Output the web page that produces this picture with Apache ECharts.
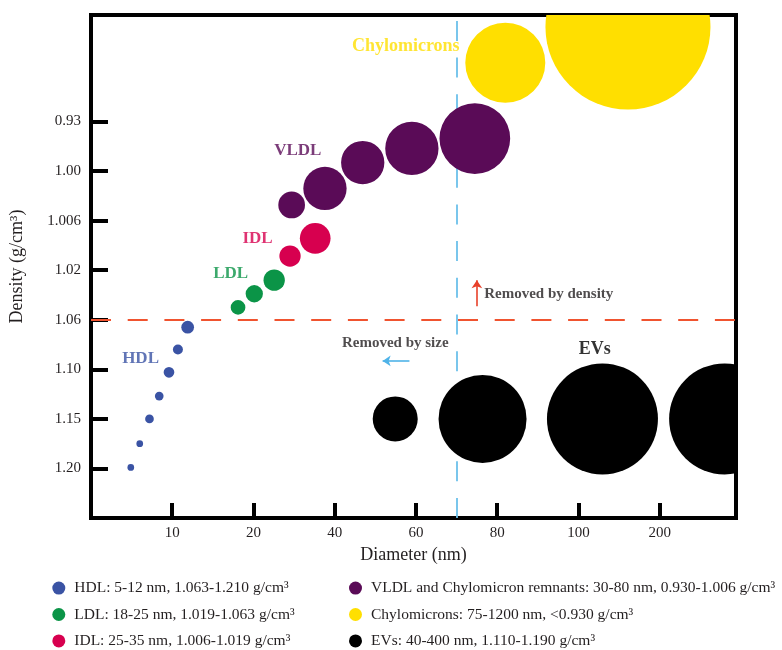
<!DOCTYPE html>
<html><head><meta charset="utf-8">
<script src="https://cdn.jsdelivr.net/npm/echarts@6/dist/echarts.min.js"></script>
<style>html,body{margin:0;padding:0;background:#fff}#c{width:782px;height:650px}</style>
</head><body><div id="c"></div>
<script>
// ---------- data ----------
const xTickValues = [10, 20, 40, 60, 80, 100, 200];
const xTickLabels = ['10', '20', '40', '60', '80', '100', '200'];
const yTickValues = [1.20, 1.15, 1.10, 1.06, 1.02, 1.006, 1.00, 0.93];
const yTickLabels = ['1.20', '1.15', '1.10', '1.06', '1.02', '1.006', '1.00', '0.93'];

const hdlDiameter = [4.9, 6.0, 7.2, 8.4, 9.6, 10.7, 11.9];
const hdlDensity  = [1.199, 1.175, 1.150, 1.127, 1.103, 1.084, 1.066];
const hdlBubble   = [6.7, 6.7, 8.7, 8.7, 10.7, 10, 12.7];

const ldlDiameter = [18.1, 20.2, 25.1];
const ldlDensity  = [1.050, 1.039, 1.028];
const ldlBubble   = [14.7, 17.3, 21.3];

const idlDiameter = [29.0, 35.2];
const idlDensity  = [1.016, 1.011];
const idlBubble   = [21.3, 30.7];

const vldlDiameter = [29.4, 37.6, 46.9, 59.0, 74.5];
const vldlDensity  = [1.0041, 1.0021, 0.988, 0.968, 0.954];
const vldlBubble   = [26.7, 43.3, 43.3, 53.3, 70.7];

const chyloDiameter = [82, 161];
const chyloDensity  = [0.847, 0.7965];
const chyloBubble   = [80, 165];

const evDiameter = [54.9, 76.4, 129.6, 280];
const evDensity  = [1.15, 1.15, 1.15, 1.15];
const evBubble   = [45, 88, 111, 111];

const sizeCutoff = 70;       // nm
const densityCutoff = 1.06;  // g/cm3

const seriesNames = [
  'HDL: 5-12 nm, 1.063-1.210 g/cm³',
  'LDL: 18-25 nm, 1.019-1.063 g/cm³',
  'IDL: 25-35 nm, 1.006-1.019 g/cm³',
  'VLDL and Chylomicron remnants: 30-80 nm, 0.930-1.006 g/cm³',
  'Chylomicrons: 75-1200 nm, <0.930 g/cm³',
  'EVs: 40-400 nm, 1.110-1.190 g/cm³'
];

const groupLabels = ['HDL', 'LDL', 'IDL', 'VLDL', 'Chylomicrons', 'EVs'];
const groupLabelDiameter = [6.1, 17.2, 21.0, 30.9, 57.5, 120];
const groupLabelDensity  = [1.0916, 1.023, 1.0112, 0.9715, 0.8233, 1.0836];

const noteTexts = ['Removed by density', 'Removed by size'];
const noteDiameter = [76.8, 54.9];
const noteDensity  = [1.0392, 1.0787];
const densityArrow = { diameter: [75, 75], density: [1.049, 1.028] };
const sizeArrow    = { diameter: [58.4, 51.8], density: [1.0932, 1.0932] };

// ---------- scales (piecewise axes) ----------
function toPos(v, anchors, pos0) {
  const n = anchors.length, dir = Math.sign(anchors[n - 1] - anchors[0]);
  let i;
  if ((v - anchors[0]) * dir <= 0) i = 0;
  else if ((v - anchors[n - 1]) * dir >= 0) i = n - 2;
  else { i = 0; while ((v - anchors[i + 1]) * dir > 0) i++; }
  return pos0 + i + (v - anchors[i]) / (anchors[i + 1] - anchors[i]);
}
const xAnchors = [0].concat(xTickValues);
const xp = v => toPos(v, xAnchors, 0);
const yp = v => toPos(v, yTickValues, 1);
const xTickPos = xTickValues.map(xp);
const yTickPos = yTickValues.map(yp);

const FONT = 'Liberation Serif';
const colors = ['#3a53a4', '#0b9447', '#d7004f', '#5a0b57', '#ffdf00', '#000000'];

function pts(d, r, b) { return d.map((v, i) => [xp(v), yp(r[i]), b[i]]); }
const groups = [
  pts(hdlDiameter, hdlDensity, hdlBubble),
  pts(ldlDiameter, ldlDensity, ldlBubble),
  pts(idlDiameter, idlDensity, idlBubble),
  pts(vldlDiameter, vldlDensity, vldlBubble),
  pts(chyloDiameter, chyloDensity, chyloBubble),
  pts(evDiameter, evDensity, evBubble)
];

const bubbleSeries = groups.map((data, i) => ({
  name: seriesNames[i], type: 'custom', data: data, z: 3, clip: true,
  encode: { x: 0, y: 1 }, silent: true,
  itemStyle: { color: colors[i] },
  renderItem: (params, api) => {
    const c = api.coord([api.value(0), api.value(1)]);
    return { type: 'circle', shape: { cx: c[0], cy: c[1], r: api.value(2) / 2 },
             style: { fill: colors[i] } };
  }
}));

const labelSizes = [17, 17, 17, 17, 18, 18];
const annotationData = groupLabels.map((t, i) => ({
  value: [xp(groupLabelDiameter[i]), yp(groupLabelDensity[i])],
  label: { show: true, position: 'inside', formatter: t, color: colors[i],
           fontFamily: FONT, fontWeight: 'bold', fontSize: labelSizes[i] }
})).concat(noteTexts.map((t, i) => ({
  value: [xp(noteDiameter[i]), yp(noteDensity[i])],
  label: { show: true, position: 'inside', formatter: t, color: '#231f20',
           align: i === 0 ? 'left' : 'center',
           fontFamily: FONT, fontWeight: 'bold', fontSize: 15 }
})));

const arrowLine = (a, color) => [
  { coord: [xp(a.diameter[0]), yp(a.density[0])], lineStyle: { color: color, width: 1.6, type: 'solid' } },
  { coord: [xp(a.diameter[1]), yp(a.density[1])] }
];

const legendCommon = {
  orient: 'vertical', top: 580.1, padding: 0, height: 120,
  icon: 'circle', itemWidth: 21, itemHeight: 13, itemGap: 10.4, selectedMode: false,
  textStyle: { fontFamily: FONT, fontSize: 15.5, color: '#231f20', lineHeight: 13 }
};

const option = {
  animation: false,
  backgroundColor: '#fff',
  grid: { left: 91, right: 46, top: 15, bottom: 132, show: true,
          borderColor: '#000', borderWidth: 4, backgroundColor: 'transparent' },
  xAxis: {
    type: 'value', min: 0, max: 7.94, interval: 1,
    name: 'Diameter (nm)', nameLocation: 'middle', nameGap: 27,
    nameTextStyle: { fontFamily: FONT, fontSize: 18, color: '#231f20' },
    axisLine: { show: true, lineStyle: { color: '#000', width: 4 } },
    axisTick: { show: true, inside: true, length: 15, customValues: xTickPos,
                lineStyle: { color: '#000', width: 4 } },
    axisLabel: { margin: 8, customValues: xTickPos, fontFamily: FONT, fontSize: 15, color: '#231f20',
                 formatter: v => { const k = xTickPos.findIndex(p => Math.abs(p - v) < 1e-6); return k >= 0 ? xTickLabels[k] : ''; } },
    splitLine: { show: false }
  },
  yAxis: {
    type: 'value', min: 0, max: 10.15, interval: 1,
    name: 'Density (g/cm³)', nameLocation: 'middle', nameGap: 65,
    nameTextStyle: { fontFamily: FONT, fontSize: 18, color: '#231f20' },
    axisLine: { show: true, lineStyle: { color: '#000', width: 4 } },
    axisTick: { show: true, inside: true, length: 17, customValues: yTickPos,
                lineStyle: { color: '#000', width: 4 } },
    axisLabel: { margin: 10, customValues: yTickPos, fontFamily: FONT, fontSize: 15, color: '#231f20',
                 formatter: v => { const k = yTickPos.findIndex(p => Math.abs(p - v) < 1e-6); return k >= 0 ? yTickLabels[k] : ''; } },
    splitLine: { show: false }
  },
  legend: [
    Object.assign({ data: seriesNames.slice(0, 3), left: 52.3 }, legendCommon),
    Object.assign({ data: seriesNames.slice(3), left: 349 }, legendCommon)
  ],
  series: [
    { name: 'cutoffs', type: 'scatter', z: 1, silent: true, symbolSize: 0,
      data: [[xp(sizeCutoff), yp(densityCutoff)]],
      markLine: { silent: true, z: 1, symbol: 'none', label: { show: false },
        data: [
          { yAxis: yp(densityCutoff), lineStyle: { color: '#f0532f', width: 1.8, type: [20, 16.7] } },
          { xAxis: xp(sizeCutoff), lineStyle: { color: '#6cc0ea', width: 1.8, type: [20, 16.7] } }
        ] } }
  ].concat(bubbleSeries).concat([
    { name: 'annotations', type: 'scatter', z: 5, silent: true, symbolSize: 0,
      data: annotationData,
      markLine: { silent: true, symbol: ['none', 'arrow'], symbolSize: 8, label: { show: false },
        data: [arrowLine(densityArrow, '#e8402a'), arrowLine(sizeArrow, '#4fb3e8')] } }
  ])
};

const chart = echarts.init(document.getElementById('c'), null, { renderer: 'canvas' });
chart.setOption(option);
</script></body></html>
